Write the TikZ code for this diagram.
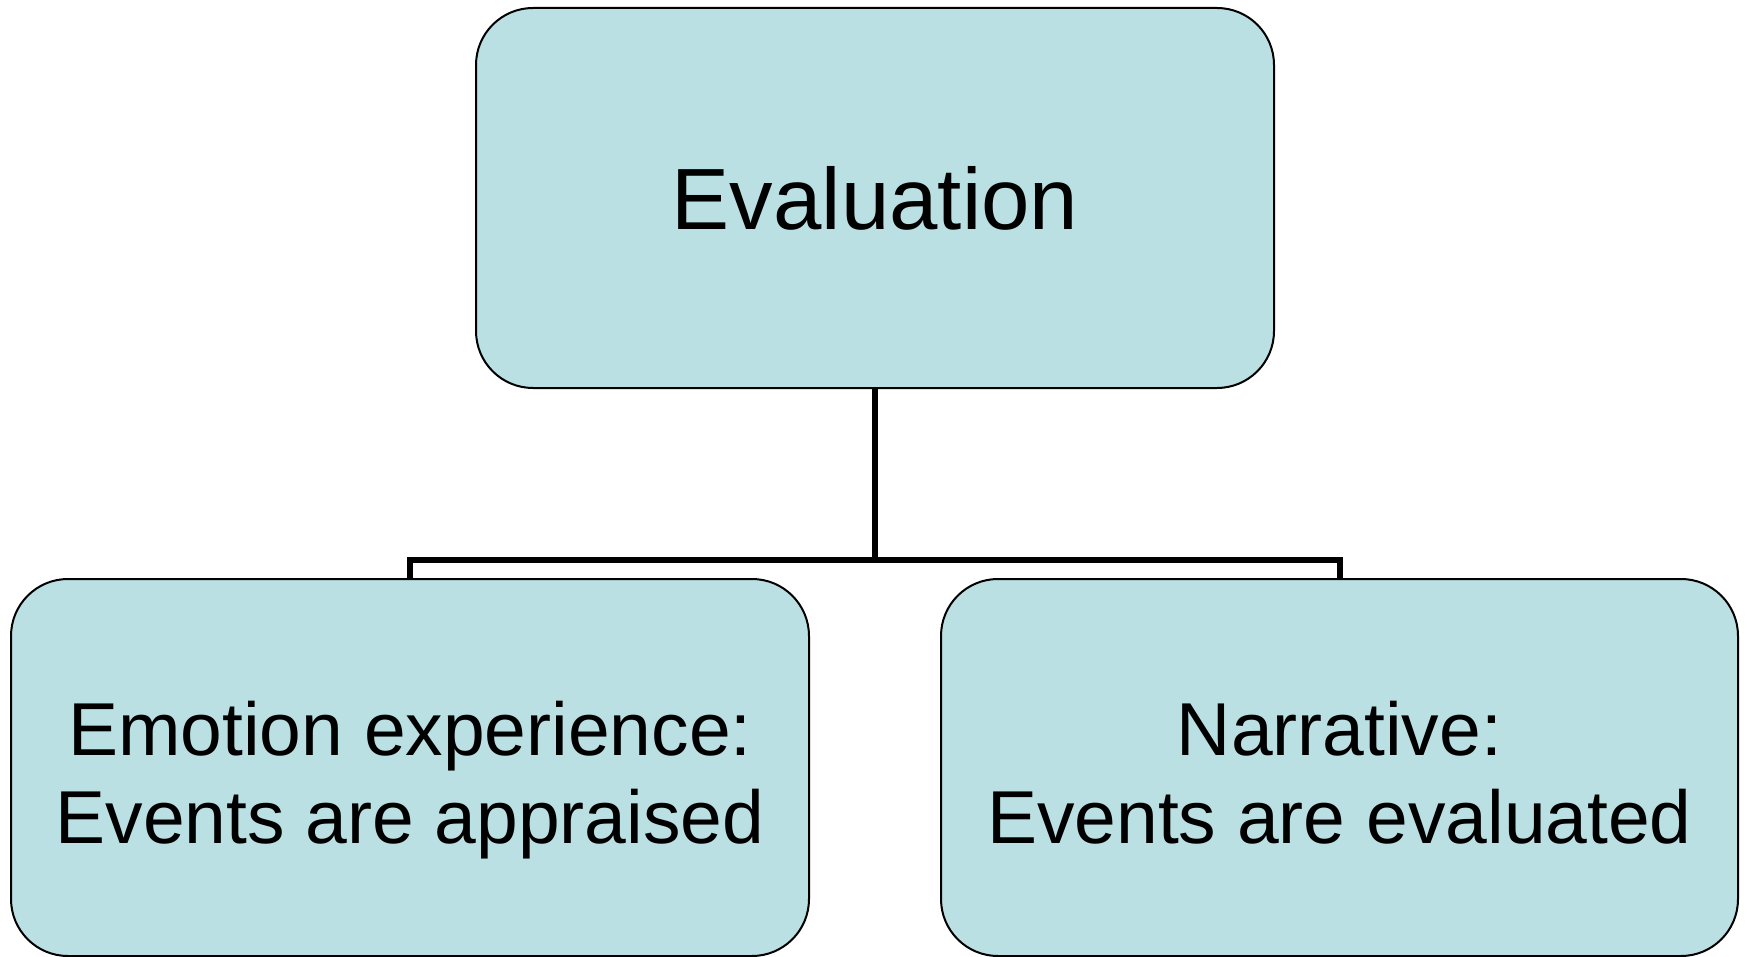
\documentclass[tikz,border=0pt]{standalone}
\usepackage{fontspec}
\setmainfont{Liberation Sans}
\definecolor{boxfill}{RGB}{186,224,227}
% first-line strut that sets the text block a little lower in its box
\newcommand{\toprule}{\rule{0pt}{89.4pt}}
\newcommand{\botstrut}{\strut}
\begin{document}
\begin{tikzpicture}[x=1pt,y=1pt,
  box/.style={draw=black, line width=2pt, fill=boxfill, rounded corners=57pt,
    inner sep=0pt, align=center, text=black},
  conn/.style={draw=black, line width=6pt}]
\useasboundingbox (0,0) rectangle (1747,-957);
% top box
\node[box, minimum width=798pt, minimum height=380pt,
  font=\fontsize{87}{100}\selectfont] (top) at (875,-198) {Evaluation};
% lower boxes
\node[box, minimum width=798pt, minimum height=377pt,
  font=\fontsize{75}{88}\selectfont] (emo) at (410,-767.5)
  {\toprule Emotion experience:\\Events are appraised\botstrut};
\node[box, minimum width=797pt, minimum height=377pt,
  font=\fontsize{75}{88}\selectfont] (nar) at (1339.5,-767.5)
  {\toprule Narrative:\\Events are evaluated\botstrut};
% tree connector
\coordinate (bus) at (875,-560);
\draw[conn] (top.south) -- (bus);
\draw[conn] (emo.north) |- (bus) -| (nar.north);
\end{tikzpicture}
\end{document}
